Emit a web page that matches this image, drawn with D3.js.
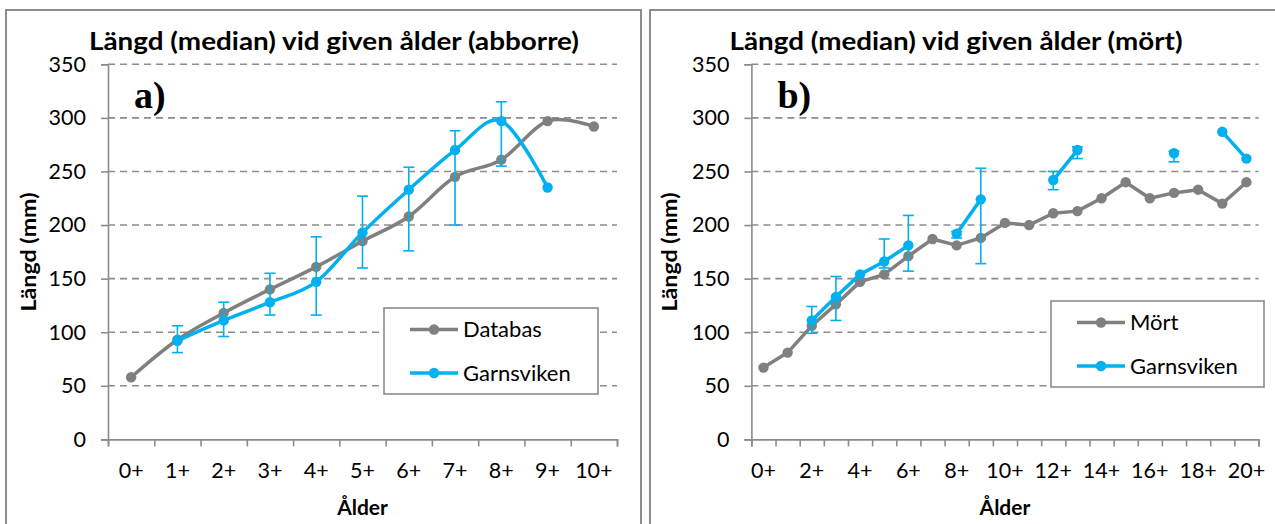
<!DOCTYPE html>
<head>
  <meta charset="utf-8">
  <script src="https://d3js.org/d3.v7.min.js"></script>
  <style>
    body { margin:0; background:#fff; }
    text { font-family: Lato, "Open Sans", sans-serif; fill:#000; }
  </style>
</head>
<body>
<script>
// --- data, panel a) abborre
var agesA = ["0+","1+","2+","3+","4+","5+","6+","7+","8+","9+","10+"];
var databasA = [58, 93, 118, 140, 161, 185, 208, 245, 261, 297, 292];
var garnA    = [null, 92, 111, 128, 147, 193, 233, 270, 297, 235, null];
var garnA_lo = [null, 81, 96, 116, 116, 160, 176, 200, 255, null, null];
var garnA_hi = [null, 106, 128, 155, 189, 227, 254, 288, 315, null, null];

// --- data, panel b) mört
var agesB = ["0+","1+","2+","3+","4+","5+","6+","7+","8+","9+","10+",
             "11+","12+","13+","14+","15+","16+","17+","18+","19+","20+"];
var mortB    = [67, 81, 106, 126, 147, 154, 171, 187, 181, 188, 202,
                200, 211, 213, 225, 240, 225, 230, 233, 220, 240];
var garnB    = [null, null, 111, 133, 154, 166, 181, null, 192, 224, null,
                null, 242, 270, null, null, null, 267, null, 287, 262];
var garnB_lo = [null, null, 99, 111, null, 160, 157, null, 188, 164, null,
                null, 233, 262, null, null, null, 259, null, null, null];
var garnB_hi = [null, null, 124, 152, null, 187, 209, null, 194, 253, null,
                null, 250, 273, null, null, null, 269, null, null, null];

var yTicks = [0, 50, 100, 150, 200, 250, 300, 350];

var gray = "#808080", blue = "#00b0f0", axisGray = "#8c8c8c";

var svg = d3.select("body").append("svg")
  .attr("width", 1275)
  .attr("height", 524);

// panel frames
svg.append("rect").attr("x", 6).attr("y", 10).attr("width", 635).attr("height", 540)
  .attr("fill", "none").attr("stroke", axisGray).attr("stroke-width", 2);
svg.append("rect").attr("x", 650).attr("y", 10).attr("width", 660).attr("height", 540)
  .attr("fill", "none").attr("stroke", axisGray).attr("stroke-width", 2);

function drawPanel(p) {
  var g = svg.append("g");
  var n = p.ages.length;
  var x = d3.scaleLinear().domain([0, n]).range([p.x0, p.x1]);
  var y = d3.scaleLinear().domain([0, 350]).range([439.4, 64.3]);
  var cx = function(i) { return x(i + 0.5); };

  // gridlines
  g.selectAll("line.grid").data(yTicks.filter(function(d) { return d > 0; }))
    .enter().append("line")
    .attr("x1", p.x0).attr("x2", p.x1)
    .attr("y1", function(d) { return y(d); }).attr("y2", function(d) { return y(d); })
    .attr("stroke", axisGray).attr("stroke-width", 1.6).attr("stroke-dasharray", "7,5");

  // y axis
  var ya = g.append("g").attr("transform", "translate(" + p.x0 + ",0)")
    .call(d3.axisLeft(y).tickValues(yTicks).tickSize(7).tickPadding(15));
  ya.select(".domain").attr("stroke", axisGray).attr("stroke-width", 1.6);
  ya.selectAll(".tick line").attr("stroke", axisGray).attr("stroke-width", 1.6);
  ya.selectAll(".tick text").style("font-size", "21.5px").style("font-family", "Lato").attr("fill", "#000");

  // x axis (ticks between categories)
  var xa = g.append("g").attr("transform", "translate(0," + y(0) + ")")
    .call(d3.axisBottom(x).tickValues(d3.range(n + 1)).tickSize(7).tickFormat(""));
  xa.select(".domain").attr("stroke", axisGray).attr("stroke-width", 1.6);
  xa.selectAll(".tick line").attr("stroke", axisGray).attr("stroke-width", 1.6);

  g.selectAll("text.xlab").data(p.ages.filter(function(d, i) { return i % p.labelStep === 0; }))
    .enter().append("text")
    .attr("x", function(d) { return cx(p.ages.indexOf(d)); })
    .attr("y", 478)
    .attr("text-anchor", "middle")
    .style("font-size", "21.5px")
    .text(function(d) { return d; });

  // titles
  g.append("text").attr("x", p.titleX).attr("y", 50).attr("text-anchor", "middle")
    .attr("textLength", p.titleW).attr("lengthAdjust", "spacingAndGlyphs")
    .style("font-size", "25px").style("font-weight", "bold").text(p.title);
  g.append("text").attr("x", (p.x0 + p.x1) / 2).attr("y", 515).attr("text-anchor", "middle")
    .style("font-size", "21px").style("font-weight", "bold").text("Ålder");
  g.append("text").attr("transform", "translate(" + p.yTitleX + ",252)rotate(-90)")
    .attr("text-anchor", "middle").attr("dy", "0.35em")
    .attr("textLength", 119).attr("lengthAdjust", "spacingAndGlyphs")
    .style("font-size", "21px").style("font-weight", "bold").text("Längd (mm)");
  g.append("text").attr("x", p.x0 + 26).attr("y", 108)
    .style("font-family", "'Liberation Serif', serif").style("font-size", "38px")
    .style("font-weight", "bold").text(p.tag);

  // lines
  var curve = p.smooth ? d3.curveCardinal.tension(0) : d3.curveLinear;
  var line = d3.line()
    .defined(function(d) { return d != null; })
    .x(function(d, i) { return cx(i); })
    .y(function(d) { return y(d); })
    .curve(curve);

  function series(vals, color) {
    g.append("path").attr("d", line(vals))
      .attr("fill", "none").attr("stroke", color).attr("stroke-width", 3.5)
      .attr("stroke-linejoin", "round");
    g.selectAll(null).data(vals.map(function(v, i) { return {v: v, i: i}; })
        .filter(function(d) { return d.v != null; }))
      .enter().append("circle")
      .attr("cx", function(d) { return cx(d.i); })
      .attr("cy", function(d) { return y(d.v); })
      .attr("r", 5.2).attr("fill", color);
  }

  series(p.base, gray);

  // error bars
  var eb = p.lo.map(function(lo, i) { return {lo: lo, hi: p.hi[i], i: i}; })
    .filter(function(d) { return d.lo != null; });
  var ebG = g.selectAll("g.eb").data(eb).enter().append("g")
    .attr("stroke", blue).attr("stroke-width", 1.6);
  ebG.append("line").attr("x1", function(d) { return cx(d.i); }).attr("x2", function(d) { return cx(d.i); })
    .attr("y1", function(d) { return y(d.lo); }).attr("y2", function(d) { return y(d.hi); });
  ebG.append("line").attr("x1", function(d) { return cx(d.i) - 5.5; }).attr("x2", function(d) { return cx(d.i) + 5.5; })
    .attr("y1", function(d) { return y(d.lo); }).attr("y2", function(d) { return y(d.lo); });
  ebG.append("line").attr("x1", function(d) { return cx(d.i) - 5.5; }).attr("x2", function(d) { return cx(d.i) + 5.5; })
    .attr("y1", function(d) { return y(d.hi); }).attr("y2", function(d) { return y(d.hi); });

  series(p.garn, blue);

  // legend
  var lg = g.append("g");
  lg.append("rect").attr("x", p.leg[0]).attr("y", p.leg[1]).attr("width", p.leg[2]).attr("height", p.leg[3])
    .attr("fill", "#fff").attr("stroke", axisGray).attr("stroke-width", 1.6);
  [[p.baseName, gray], ["Garnsviken", blue]].forEach(function(it, k) {
    var ly = p.leg[1] + 21.5 + k * 43.5;
    var lx = p.leg[0] + 26;
    lg.append("line").attr("x1", lx).attr("x2", lx + 48).attr("y1", ly).attr("y2", ly)
      .attr("stroke", it[1]).attr("stroke-width", 3.5);
    lg.append("circle").attr("cx", lx + 24).attr("cy", ly).attr("r", 5.2).attr("fill", it[1]);
    lg.append("text").attr("x", lx + 53).attr("y", ly).attr("dy", "0.36em")
      .style("font-size", "22px").text(it[0]);
  });
}

drawPanel({
  ages: agesA, base: databasA, garn: garnA, lo: garnA_lo, hi: garnA_hi,
  x0: 108, x1: 617, labelStep: 1, smooth: true,
  title: "Längd (median) vid given ålder (abborre)", titleX: 334, titleW: 490, yTitleX: 29,
  tag: "a)", baseName: "Databas", leg: [384, 308, 214, 86]
});

drawPanel({
  ages: agesB, base: mortB, garn: garnB, lo: garnB_lo, hi: garnB_hi,
  x0: 751.4, x1: 1258.5, labelStep: 2, smooth: false,
  title: "Längd (median) vid given ålder (mört)", titleX: 956, titleW: 453, yTitleX: 670,
  tag: "b)", baseName: "Mört", leg: [1051, 301, 213, 86]
});
</script>
</body>
</html>
